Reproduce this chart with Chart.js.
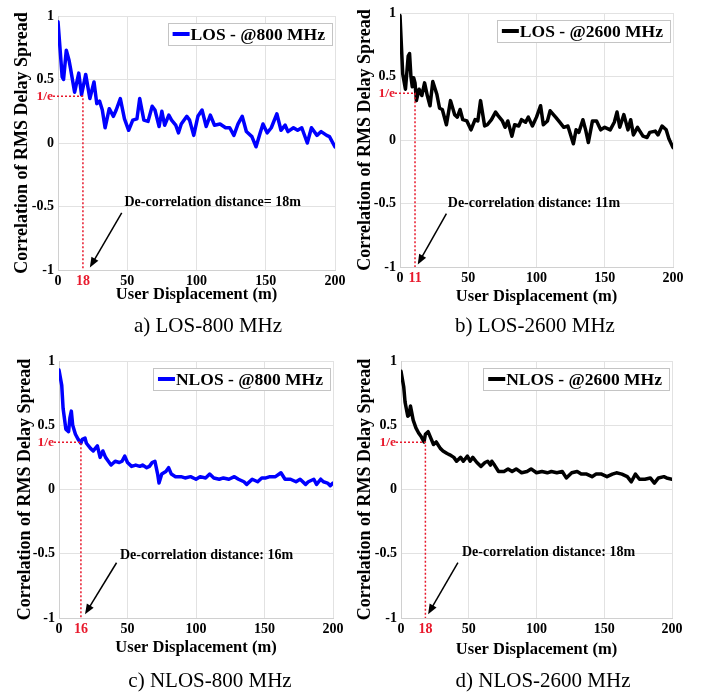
<!DOCTYPE html>
<html>
<head>
<meta charset="utf-8">
<script src="https://cdn.jsdelivr.net/npm/chart.js@4.4.1/dist/chart.umd.min.js"></script>
<style>
  body { margin: 0; background: #fff; }
  #wrap { position: relative; width: 715px; height: 692px; overflow: hidden; }
  .panel { position: absolute; }
  .cap { position: absolute; font-family: 'Liberation Serif', 'Times New Roman', serif; font-size: 21px; color: #000;
         transform: translate(-50%, -50%); white-space: nowrap; }
</style>
</head>
<body>
<div id="wrap"></div>
<script>
// tick labels
const xTicks = [0, 50, 100, 150, 200];
const yTicks = [-1, -0.5, 0, 0.5, 1];

// a) LOS 800 MHz
const los800X = [0,3,4,6,8,9,12,15,17,20,23,26,28,30,32,34,37,40,42,45,48,51,54,57,59,62,65,68,70,73,75,77,80,82,85,87,89,93,95,98,101,104,107,110,113,117,121,124,127,130,133,136,140,143,146,148,151,154,158,161,164,166,170,173,176,180,183,187,190,194,196,200];
const los800Y = [0.955,0.52,0.50,0.73,0.65,0.59,0.40,0.55,0.38,0.54,0.35,0.48,0.31,0.33,0.26,0.12,0.27,0.21,0.26,0.35,0.19,0.10,0.18,0.19,0.35,0.18,0.17,0.29,0.26,0.13,0.25,0.14,0.22,0.18,0.14,0.08,0.15,0.21,0.18,0.06,0.21,0.26,0.13,0.22,0.14,0.15,0.12,0.12,0.06,0.15,0.21,0.09,0.05,-0.03,0.08,0.15,0.08,0.12,0.23,0.10,0.14,0.09,0.12,0.10,0.12,0.00,0.12,0.06,0.09,0.06,0.05,-0.03];

// b) LOS 2600 MHz
const los2600X = [0,2,4,6,7,8,9,10,11,12,14,16,18,20,22,24,27,29,31,34,37,40,42,44,46,49,52,55,57,59,62,64,67,70,72,75,77,79,82,84,87,89,92,94,97,100,103,105,108,110,114,117,120,123,127,129,131,134,136,138,141,144,147,150,154,157,159,161,164,167,169,171,174,178,181,183,187,189,192,195,197,200];
const los2600Y = [0.98,0.52,0.40,0.66,0.68,0.50,0.42,0.49,0.45,0.31,0.40,0.35,0.45,0.35,0.27,0.46,0.36,0.25,0.24,0.12,0.31,0.20,0.18,0.24,0.16,0.15,0.08,0.16,0.15,0.31,0.11,0.12,0.16,0.22,0.19,0.15,0.10,0.15,0.03,0.12,0.11,0.16,0.14,0.18,0.11,0.18,0.27,0.12,0.15,0.23,0.18,0.14,0.10,0.11,-0.03,0.08,0.06,0.16,0.08,-0.02,0.15,0.15,0.08,0.10,0.08,0.14,0.22,0.10,0.20,0.08,0.16,0.04,0.10,0.03,0.02,0.06,0.07,0.04,0.11,0.08,0.01,-0.06];

// c) NLOS 800 MHz
const nlos800X = [0,2,3,5,7,8,9,10,12,14,16,17,19,20,23,25,28,30,32,34,36,38,41,44,46,48,50,53,56,59,61,64,66,68,70,72,73,75,78,80,82,85,89,92,96,100,103,107,110,113,117,120,124,128,131,135,137,141,145,148,151,154,158,162,165,169,173,176,180,182,186,188,191,193,196,198,200];
const nlos800Y = [0.93,0.81,0.63,0.47,0.45,0.56,0.61,0.50,0.43,0.39,0.36,0.39,0.40,0.36,0.32,0.30,0.34,0.25,0.30,0.25,0.22,0.19,0.22,0.21,0.22,0.26,0.21,0.18,0.19,0.18,0.19,0.17,0.18,0.21,0.22,0.12,0.05,0.12,0.14,0.17,0.12,0.10,0.10,0.09,0.10,0.08,0.10,0.09,0.12,0.09,0.08,0.09,0.08,0.10,0.08,0.06,0.04,0.08,0.06,0.09,0.09,0.10,0.10,0.13,0.08,0.08,0.06,0.08,0.04,0.06,0.08,0.04,0.08,0.06,0.05,0.03,0.05];

// d) NLOS 2600 MHz
const nlos2600X = [0,2,3,5,6,7,9,11,13,15,17,18,20,22,24,26,29,31,34,36,39,41,44,46,49,51,53,56,59,62,64,66,67,69,72,76,79,82,85,89,93,96,100,104,108,111,115,119,122,126,130,133,137,141,144,148,152,156,159,163,167,170,173,176,180,184,187,190,194,196,200];
const nlos2600Y = [0.92,0.80,0.68,0.57,0.58,0.65,0.54,0.48,0.44,0.41,0.37,0.43,0.45,0.40,0.35,0.37,0.32,0.30,0.28,0.27,0.25,0.22,0.25,0.22,0.26,0.22,0.25,0.21,0.18,0.21,0.22,0.19,0.22,0.19,0.14,0.14,0.16,0.14,0.16,0.13,0.14,0.16,0.13,0.14,0.13,0.14,0.13,0.14,0.09,0.13,0.14,0.12,0.12,0.10,0.12,0.12,0.10,0.12,0.13,0.12,0.10,0.06,0.12,0.08,0.08,0.09,0.05,0.09,0.10,0.09,0.08];

const FONT = "'Liberation Serif', 'Times New Roman', serif";
const RED = '#e8192c';

const panels = [
  { label: 'LOS - @800 MHz', color: '#0000ff', xs: los800X, ys: los800Y, dist: 18,
    note: 'De-correlation distance= 18m', caption: 'a) LOS-800 MHz',
    noteAt: [48, -0.47], arrowFrom: [46, -0.55], arrowTo: [23, -0.98],
    box: { x: 0, y: 0, w: 350, h: 315 }, plot: { l: 58, r: 335, t: 16, b: 270 },
    yTitleX: 22, xTitleY: 295, cap: [208, 325] },
  { label: 'LOS - @2600 MHz', color: '#000000', xs: los2600X, ys: los2600Y, dist: 11,
    note: 'De-correlation distance: 11m', caption: 'b) LOS-2600 MHz',
    noteAt: [35, -0.50], arrowFrom: [34, -0.58], arrowTo: [13, -0.98],
    box: { x: 350, y: 0, w: 365, h: 315 }, plot: { l: 400, r: 673, t: 13, b: 267 },
    yTitleX: 365, xTitleY: 297, cap: [535, 325] },
  { label: 'NLOS - @800 MHz', color: '#0000ff', xs: nlos800X, ys: nlos800Y, dist: 16,
    note: 'De-correlation distance: 16m', caption: 'c) NLOS-800 MHz',
    noteAt: [44.5, -0.51], arrowFrom: [42, -0.57], arrowTo: [19, -0.97],
    box: { x: 0, y: 345, w: 350, h: 330 }, plot: { l: 59, r: 333, t: 361, b: 618 },
    yTitleX: 25, xTitleY: 648, cap: [210, 680] },
  { label: 'NLOS - @2600 MHz', color: '#000000', xs: nlos2600X, ys: nlos2600Y, dist: 18,
    note: 'De-correlation distance: 18m', caption: 'd) NLOS-2600 MHz',
    noteAt: [45, -0.49], arrowFrom: [42, -0.57], arrowTo: [20, -0.97],
    box: { x: 350, y: 345, w: 365, h: 330 }, plot: { l: 401, r: 672, t: 361, b: 618 },
    yTitleX: 365, xTitleY: 650, cap: [543, 680] }
];

// draws the 1/e markers, the note with arrow and the boxed legend
const makeAnnot = (p) => ({
  id: 'annot',
  afterDraw(chart) {
    const { ctx, chartArea: a, scales: { x, y } } = chart;
    const inv = 1 / Math.E;
    const px = x.getPixelForValue(p.dist);
    const py = y.getPixelForValue(inv);
    ctx.save();

    // dotted red guides
    ctx.strokeStyle = RED;
    ctx.lineWidth = 1.5;
    ctx.setLineDash([2, 2]);
    ctx.beginPath();
    ctx.moveTo(a.left - 5, py);
    ctx.lineTo(px, py);
    ctx.lineTo(px, a.bottom);
    ctx.stroke();
    ctx.setLineDash([]);

    ctx.fillStyle = RED;
    ctx.font = 'bold 13.5px ' + FONT;
    ctx.textAlign = 'right';
    ctx.textBaseline = 'middle';
    ctx.fillText('1/e', a.left - 5, py);
    ctx.font = 'bold 14px ' + FONT;
    ctx.textAlign = 'center';
    ctx.fillText(String(p.dist), px, a.bottom + 11);

    // note + arrow
    ctx.fillStyle = '#000';
    ctx.font = 'bold 14px ' + FONT;
    ctx.textAlign = 'left';
    ctx.fillText(p.note, x.getPixelForValue(p.noteAt[0]), y.getPixelForValue(p.noteAt[1]));
    const x0 = x.getPixelForValue(p.arrowFrom[0]), y0 = y.getPixelForValue(p.arrowFrom[1]);
    const x1 = x.getPixelForValue(p.arrowTo[0]), y1 = y.getPixelForValue(p.arrowTo[1]);
    const ang = Math.atan2(y1 - y0, x1 - x0);
    ctx.strokeStyle = '#000';
    ctx.lineWidth = 1.5;
    ctx.beginPath();
    ctx.moveTo(x0, y0);
    ctx.lineTo(x1 - 6 * Math.cos(ang), y1 - 6 * Math.sin(ang));
    ctx.stroke();
    ctx.beginPath();
    ctx.moveTo(x1, y1);
    ctx.lineTo(x1 - 10 * Math.cos(ang) + 4 * Math.sin(ang), y1 - 10 * Math.sin(ang) - 4 * Math.cos(ang));
    ctx.lineTo(x1 - 10 * Math.cos(ang) - 4 * Math.sin(ang), y1 - 10 * Math.sin(ang) + 4 * Math.cos(ang));
    ctx.closePath();
    ctx.fill();

    // legend box
    ctx.font = 'bold 17.5px ' + FONT;
    const tw = ctx.measureText(p.label).width;
    const bw = tw + 30, bh = 22;
    const bx = a.right - 3 - bw, by = a.top + 7;
    ctx.fillStyle = '#fff';
    ctx.fillRect(bx, by, bw, bh);
    ctx.strokeStyle = '#c4c4c4';
    ctx.lineWidth = 1;
    ctx.strokeRect(Math.round(bx) + 0.5, by + 0.5, Math.round(bw), bh);
    ctx.strokeStyle = p.color;
    ctx.lineWidth = 4;
    ctx.beginPath();
    ctx.moveTo(bx + 5, by + bh / 2);
    ctx.lineTo(bx + 22, by + bh / 2);
    ctx.stroke();
    ctx.fillStyle = '#000';
    ctx.textAlign = 'left';
    ctx.textBaseline = 'middle';
    ctx.fillText(p.label, bx + 23, by + bh / 2 + 1);
    ctx.restore();
  }
});

const wrap = document.getElementById('wrap');

panels.forEach(p => {
  const div = document.createElement('div');
  div.className = 'panel';
  div.style.left = p.box.x + 'px';
  div.style.top = p.box.y + 'px';
  const canvas = document.createElement('canvas');
  canvas.width = p.box.w;
  canvas.height = p.box.h;
  div.appendChild(canvas);
  wrap.appendChild(div);

  const cap = document.createElement('div');
  cap.className = 'cap';
  cap.textContent = p.caption;
  cap.style.left = p.cap[0] + 'px';
  cap.style.top = p.cap[1] + 'px';
  wrap.appendChild(cap);

  // layout derived from where the plot box should sit
  const yTitleSize = 18, xTitleSize = 16.5;
  const padL = p.yTitleX - p.box.x - yTitleSize * 0.6;
  const yW = p.plot.l - p.box.x - padL;
  const padR = p.box.x + p.box.w - p.plot.r;
  const padT = p.plot.t - p.box.y;
  const xH = p.xTitleY + xTitleSize * 0.6 - p.plot.b;
  const padB = p.box.y + p.box.h - p.plot.b - xH;

  const grid = { color: '#e2e2e2', drawTicks: false, lineWidth: 1 };
  const tickFont = { family: FONT, weight: 'bold', size: 14 };

  new Chart(canvas.getContext('2d'), {
    type: 'line',
    data: {
      datasets: [{
        label: p.label,
        data: p.xs.map((v, i) => ({ x: v, y: p.ys[i] })),
        borderColor: p.color,
        borderWidth: 3.5,
        pointRadius: 0,
        tension: 0,
        borderJoinStyle: 'round',
        borderCapStyle: 'round',
        fill: false
      }]
    },
    options: {
      responsive: false,
      animation: false,
      layout: { padding: { left: padL, right: padR, top: padT, bottom: padB } },
      plugins: { legend: { display: false }, tooltip: { enabled: false } },
      scales: {
        x: {
          type: 'linear', min: 0, max: 200,
          afterBuildTicks: s => { s.ticks = xTicks.map(v => ({ value: v })); },
          afterFit: s => { s.height = xH; },
          grid: grid,
          border: { color: '#d0d0d0' },
          ticks: { padding: 3, color: '#000', font: tickFont, callback: v => String(v) },
          title: { display: true, text: 'User Displacement (m)', color: '#000',
                   font: { family: FONT, weight: 'bold', size: xTitleSize }, padding: { top: 0, bottom: 0 } }
        },
        y: {
          type: 'linear', min: -1, max: 1,
          afterBuildTicks: s => { s.ticks = yTicks.map(v => ({ value: v })); },
          afterFit: s => { s.width = yW; },
          grid: grid,
          border: { color: '#d0d0d0' },
          ticks: { padding: 4, color: '#000', font: tickFont, callback: v => String(v) },
          title: { display: true, text: 'Correlation of RMS Delay Spread', color: '#000',
                   font: { family: FONT, weight: 'bold', size: yTitleSize }, padding: { top: 0, bottom: 0 } }
        }
      }
    },
    plugins: [makeAnnot(p)]
  });
});
</script>
</body>
</html>
